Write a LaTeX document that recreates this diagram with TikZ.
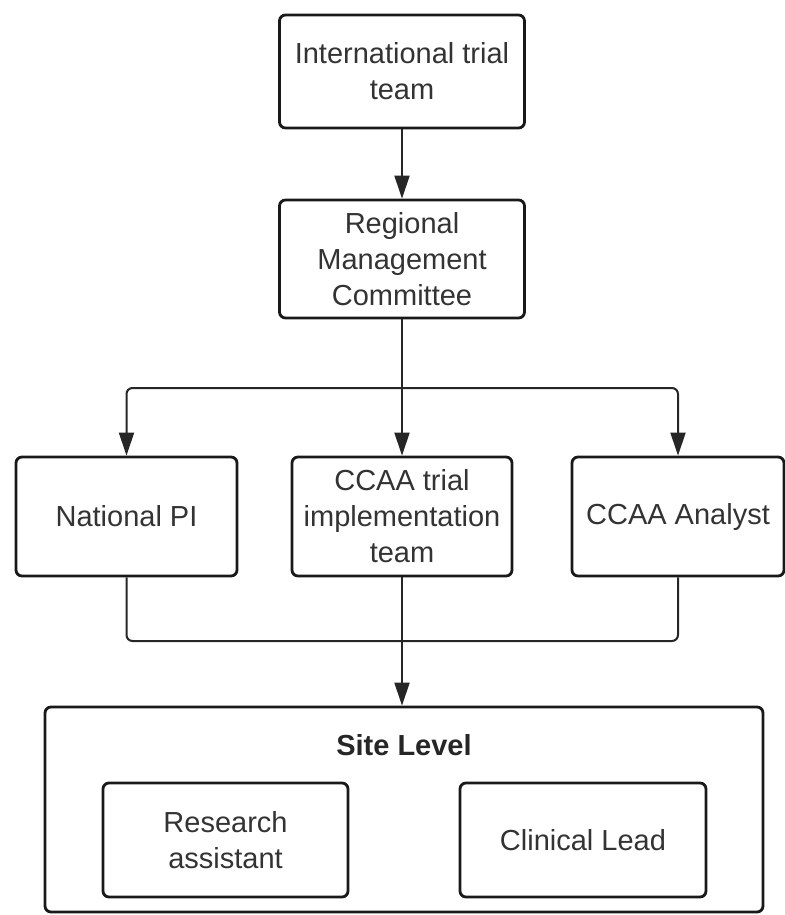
\documentclass[tikz,border=0pt]{standalone}
\usepackage{fontspec}
\setmainfont{Liberation Sans}
\usetikzlibrary{arrows.meta}

\tikzset{
  orgbox/.style={draw=black!90, line width=2.8pt, rounded corners=6pt, align=center,
    inner sep=0pt, font=\fontsize{29}{36}\selectfont, text=black!80},
  link/.style={draw=black!85, line width=2pt, rounded corners=6pt},
  linkarrow/.style={link, -{Triangle[length=23pt,width=15pt]}}
}

\begin{document}
\begin{tikzpicture}[x=1pt,y=-1pt]
  \useasboundingbox (0,0) rectangle (784,915);

  \node[orgbox, minimum width=245pt, minimum height=113pt] (intl) at (402,71.5) {International trial\\team};
  \node[orgbox, minimum width=245pt, minimum height=118pt] (reg) at (402,259) {Regional\\Management\\Committee};

  \node[orgbox, minimum width=221pt, minimum height=119pt] (natpi) at (126.5,516.5) {National PI};
  \node[orgbox, minimum width=220pt, minimum height=119pt] (impl) at (402,516.5) {CCAA trial\\implementation\\team};
  \node[orgbox, minimum width=212pt, minimum height=119pt] (analyst) at (678,516.5) {CCAA Analyst};

  \node[orgbox, minimum width=718pt, minimum height=205pt] (site) at (404,809.5) {};
  \node[font=\fontsize{29}{36}\selectfont\bfseries, text=black!85] (sitelabel) at (404,745) {Site Level};
  \node[orgbox, minimum width=245pt, minimum height=114pt] (research) at (225.5,840) {Research\\assistant};
  \node[orgbox, minimum width=246pt, minimum height=114pt] (clinical) at (583,840) {Clinical Lead};

  \coordinate (split) at (402,388);
  \coordinate (join) at (402,641);

  \draw[linkarrow] (intl) -- (reg);
  \draw[link] (reg.south) -- (split);
  \draw[linkarrow] (split) -| (natpi.north);
  \draw[linkarrow] (split) -- (impl.north);
  \draw[linkarrow] (split) -| (analyst.north);

  \draw[link] (natpi.south) |- (join);
  \draw[link] (analyst.south) |- (join);
  \draw[link] (impl.south) -- (join);
  \draw[linkarrow] (join) -- (join |- site.north);
\end{tikzpicture}
\end{document}
